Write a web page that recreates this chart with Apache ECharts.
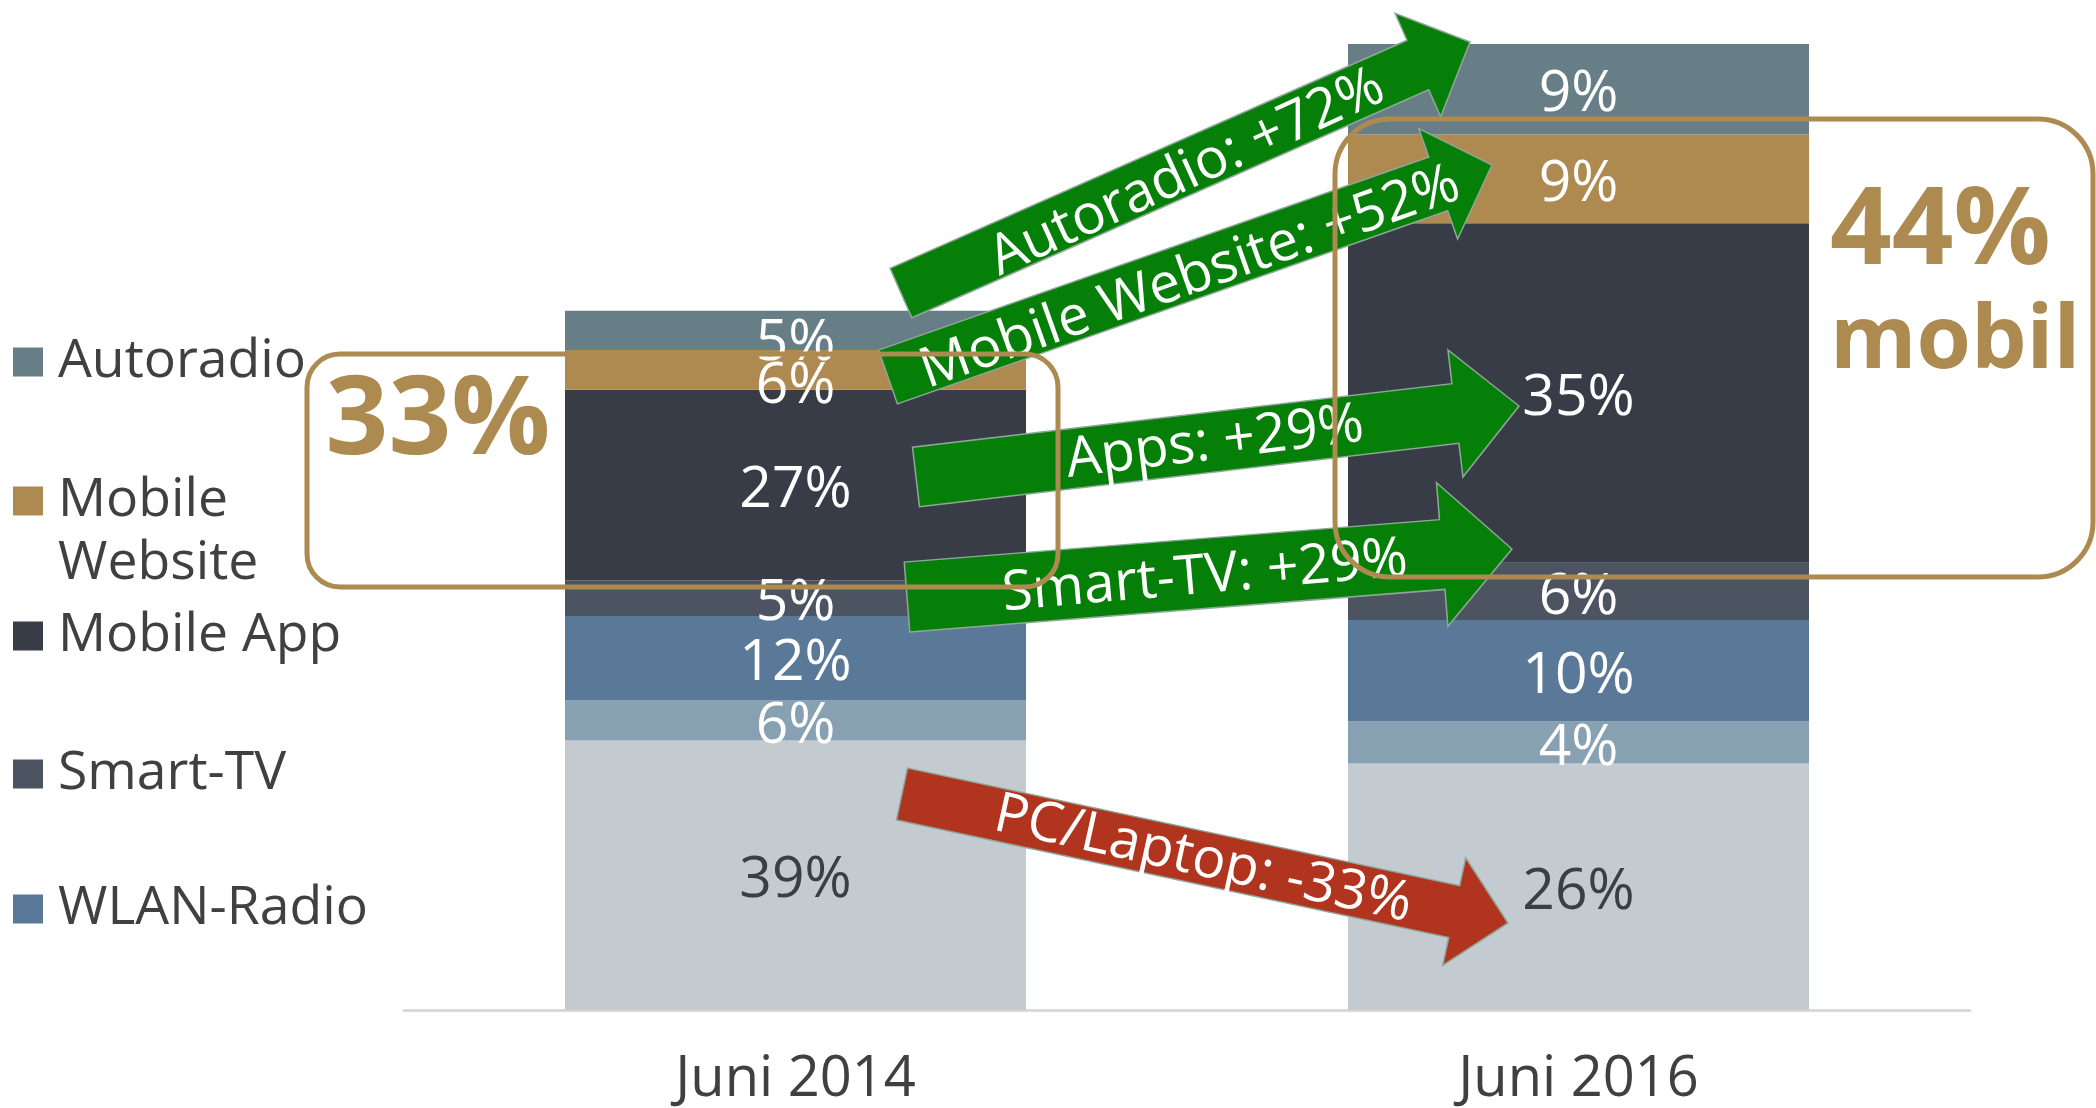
<!DOCTYPE html>
<html><head><meta charset="utf-8">
<script src="https://cdn.jsdelivr.net/npm/echarts@6/dist/echarts.min.js"></script>
<style>html,body{margin:0;padding:0;background:#fff}#c{width:2096px;height:1108px}</style>
</head><body><div id="c"></div>
<script>
// ---------- DATA ----------
const categories = ['Juni 2014', 'Juni 2016'];
// Segment heights (scale: Juni 2014 bar = 100)
const pcLaptop      = [38.5, 35.2];
const sonstige      = [5.7, 6.0];
const wlanRadio     = [12.1, 14.5];
const smartTv       = [5.1, 8.2];
const mobileApp     = [27.2, 48.5];
const mobileWebsite = [5.7, 12.7];
const autoradio     = [5.6, 12.9];
// Printed share labels (%)
const sharePcLaptop      = [39, 26];
const shareSonstige      = [6, 4];
const shareWlanRadio     = [12, 10];
const shareSmartTv       = [5, 6];
const shareMobileApp     = [27, 35];
const shareMobileWebsite = [6, 9];
const shareAutoradio     = [5, 9];
// Legend entries (top to bottom)
const legendNames = ['Autoradio', 'Mobile Website', 'Mobile App', 'Smart-TV', 'WLAN-Radio'];
// Change annotations
const changeLabels = ['Autoradio: +72%', 'Mobile Website: +52%', 'Apps: +29%', 'Smart-TV: +29%', 'PC/Laptop: -33%'];
const mobileShare2014 = '33%';
const mobileShare2016 = '44%';
const mobileWord = 'mobil';

// ---------- STYLE / LAYOUT ----------
const FONT = "'Open Sans', 'DejaVu Sans', sans-serif";
const TAN = '#AD8A50';
const colors = {
  'PC/Laptop': '#C3CBD1', 'Sonstige': '#87A0B2', 'WLAN-Radio': '#5A7897', 'Smart-TV': '#4C5361',
  'Mobile App': '#383C47', 'Mobile Website': '#AE8A50', 'Autoradio': '#687E87'
};
const stackDef = [
  ['PC/Laptop', pcLaptop, sharePcLaptop, '#3A3F45'],
  ['Sonstige', sonstige, shareSonstige, '#fff'],
  ['WLAN-Radio', wlanRadio, shareWlanRadio, '#fff'],
  ['Smart-TV', smartTv, shareSmartTv, '#fff'],
  ['Mobile App', mobileApp, shareMobileApp, '#fff'],
  ['Mobile Website', mobileWebsite, shareMobileWebsite, '#fff'],
  ['Autoradio', autoradio, shareAutoradio, '#fff']
];
const labelNudge = { 'Mobile Website': [[0, 17], [0, 6]], 'Autoradio': [[0, 13], [0, 6]] };

const series = stackDef.map(([name, vals, shares, lc]) => ({
  name, type: 'bar', stack: 'total', barWidth: 461,
  itemStyle: { color: colors[name] },
  data: vals.map((v, i) => ({
    value: v,
    label: { offset: labelNudge[name] ? labelNudge[name][i] : [0, 6] }
  })),
  label: {
    show: true, position: 'inside', fontSize: 57, fontFamily: FONT, color: lc,
    formatter: p => shares[p.dataIndex] + '%'
  }
}));

const legendCenters = [362, 501, 636, 774, 909];
const legends = legendNames.map((n, i) => ({
  data: [n], orient: 'vertical', left: 13, top: legendCenters[i] - 30,
  itemWidth: 30, itemHeight: 29, icon: 'rect', padding: 0, selectedMode: false,
  formatter: n === 'Mobile Website' ? 'Mobile' : '{name}',
  textStyle: { fontSize: 53.5, lineHeight: 60, color: '#404040', fontFamily: FONT, padding: [0, 0, 0, 10] }
}));

function arrowPoints(tx, ty, hx, hy, shaft, headW, headL) {
  const dx = hx - tx, dy = hy - ty, L = Math.hypot(dx, dy);
  const ux = dx / L, uy = dy / L, nx = -uy, ny = ux;
  const bx = hx - ux * headL, by = hy - uy * headL;
  const s = shaft / 2, h = headW / 2;
  return [
    [tx + nx * s, ty + ny * s], [bx + nx * s, by + ny * s], [bx + nx * h, by + ny * h],
    [hx, hy],
    [bx - nx * h, by - ny * h], [bx - nx * s, by - ny * s], [tx - nx * s, ty - ny * s]
  ];
}
// tail center, tip, shaft width, head width, head length, color, text center, text angle
const arrowGeo = [
  [901, 293, 1470, 42, 54, 113, 57, '#067F08', 1187, 173, 24.5],
  [888, 377, 1492, 165, 57, 117, 57, '#067F08', 1190, 278, 19.6],
  [916, 477, 1519, 406, 60, 128, 64, '#067F08', 1215, 443, 7],
  [907, 597, 1512, 549, 70, 144, 70, '#067F08', 1205, 577, 5],
  [902, 794, 1508, 923, 53, 110, 55, '#B1341F', 1203, 860, -12.5]
];
const graphics = [];
arrowGeo.forEach((g, i) => {
  graphics.push({
    type: 'polygon', z: 10,
    shape: { points: arrowPoints(g[0], g[1], g[2], g[3], g[4], g[5], g[6]) },
    style: { fill: g[7], stroke: '#8FA79A', lineWidth: 1.5 }
  });
  graphics.push({
    type: 'text', z: 11, x: g[8], y: g[9], rotation: g[10] * Math.PI / 180,
    style: { text: changeLabels[i], fill: '#fff', fontSize: 55.5, fontFamily: FONT, align: 'center', verticalAlign: 'middle' }
  });
});
graphics.push(
  { type: 'rect', z: 12, shape: { x: 307, y: 354, width: 751, height: 233, r: 33 },
    style: { fill: 'transparent', stroke: TAN, lineWidth: 5 } },
  { type: 'rect', z: 12, shape: { x: 1335, y: 119, width: 758, height: 458, r: 55 },
    style: { fill: 'transparent', stroke: TAN, lineWidth: 5 } },
  { type: 'text', z: 13, x: 438, y: 423,
    style: { text: mobileShare2014, fill: TAN, fontSize: 110, fontWeight: 'bold', fontFamily: FONT, align: 'center', verticalAlign: 'middle' } },
  { type: 'text', z: 13, x: 1830, y: 233,
    style: { text: mobileShare2016, fill: TAN, fontSize: 108, fontWeight: 'bold', fontFamily: FONT, align: 'left', verticalAlign: 'middle' } },
  { type: 'text', z: 13, x: 1830, y: 343,
    style: { text: mobileWord, fill: TAN, fontSize: 88, fontWeight: 'bold', fontFamily: FONT, align: 'left', verticalAlign: 'middle' } },
  { type: 'text', z: 13, x: 58, y: 564,
    style: { text: 'Website', fill: '#404040', fontSize: 53.5, fontFamily: FONT, align: 'left', verticalAlign: 'middle' } }
);

const chart = echarts.init(document.getElementById('c'), null, { renderer: 'canvas' });
chart.setOption({
  backgroundColor: '#fff',
  animation: false,
  textStyle: { fontFamily: FONT },
  legend: legends,
  grid: { left: 404, right: 126, top: 30, bottom: 92 },
  xAxis: {
    type: 'category', data: categories,
    axisLine: { lineStyle: { color: '#D9D9D9', width: 3 } },
    axisTick: { show: false },
    axisLabel: { fontSize: 56, lineHeight: 56, color: '#404040', fontFamily: FONT, margin: 42 }
  },
  yAxis: { type: 'value', min: 0, max: 140, show: false, splitLine: { show: false } },
  series,
  graphic: graphics
});
</script>
</body></html>
